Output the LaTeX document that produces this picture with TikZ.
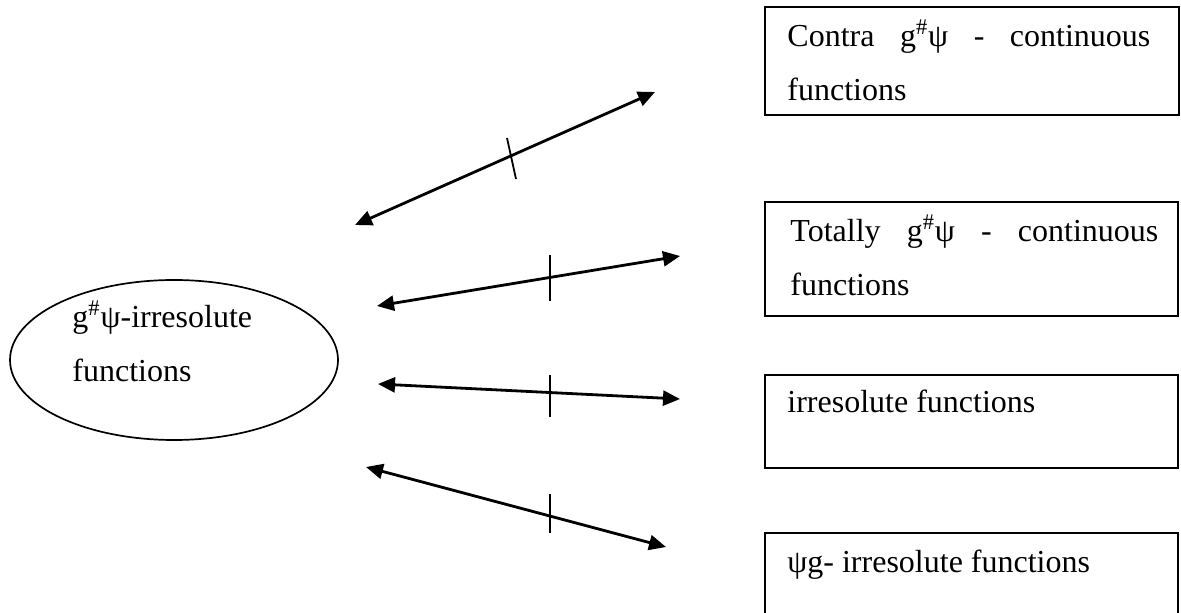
\documentclass[tikz,border=0pt]{standalone}
\usepackage{fontspec}
\setmainfont{Liberation Serif}
\usetikzlibrary{arrows.meta,shapes.geometric}
\tikzset{
  boxshape/.style={draw, line width=1pt, rectangle, inner sep=0pt},
  ellshape/.style={draw, line width=0.85pt, ellipse, inner sep=0pt, minimum width=164pt, minimum height=80pt},
  txt/.style={anchor=base west, inner sep=0pt, font=\fontsize{16}{27}\selectfont},
  link/.style={line width=1.4pt, {Triangle[length=8.5pt,width=7.5pt]}-{Triangle[length=8.5pt,width=7.5pt]}},
  tick/.style={line width=0.9pt}
}
\begin{document}
\begin{tikzpicture}[x=0.5pt,y=-0.5pt]
\clip (0,0) rectangle (1181,613);
\fill[white] (0,0) rectangle (1181,613);
% left ellipse
\node[ellshape] (ell) at (174,360) {};
\node[txt] (elltxt) at (72,328) {\parbox[t]{120pt}{g\textsuperscript{\#}ψ-irresolute\\functions}};
% boxes
\node[boxshape, minimum width=207pt, minimum height=54pt] (b1) at (972,61) {};
\node[txt] (t1) at (787,47) {\parbox[t]{181.5pt}{Contra\hfill g\textsuperscript{\#}ψ\hfill -\hfill continuous\\functions}};
\node[boxshape, minimum width=206.5pt, minimum height=57pt] (b2) at (971.5,259) {};
\node[txt] (t2) at (790,242) {\parbox[t]{184pt}{Totally\hfill g\textsuperscript{\#}ψ\hfill -\hfill continuous\\functions}};
\node[boxshape, minimum width=206.5pt, minimum height=46.5pt] (b3) at (971.5,421.5) {};
\node[txt] (t3) at (787,413) {irresolute functions};
\node[boxshape, minimum width=206.5pt, minimum height=58.5pt] (b4) at (971.5,591.5) {};
\node[txt] (t4) at (787,572) {ψg- irresolute functions};
% arrow end points
\coordinate (a1l) at (355,225); \coordinate (a1r) at (655,92);
\coordinate (a2l) at (377,306); \coordinate (a2r) at (680,256);
\coordinate (a3l) at (378,384); \coordinate (a3r) at (680,399);
\coordinate (a4l) at (366,467); \coordinate (a4r) at (666,547);
\draw[link] (a1l) -- (a1r);
\draw[link] (a2l) -- (a2r);
\draw[link] (a3l) -- (a3r);
\draw[link] (a4l) -- (a4r);
% ticks
\coordinate (k1a) at (507,138); \coordinate (k1b) at (516,179);
\coordinate (k2a) at (550,255); \coordinate (k2b) at (550,301);
\coordinate (k3a) at (550,375); \coordinate (k3b) at (550,417);
\coordinate (k4a) at (550,494); \coordinate (k4b) at (550,533);
\draw[tick] (k1a) -- (k1b);
\draw[tick] (k2a) -- (k2b);
\draw[tick] (k3a) -- (k3b);
\draw[tick] (k4a) -- (k4b);
\end{tikzpicture}
\end{document}
